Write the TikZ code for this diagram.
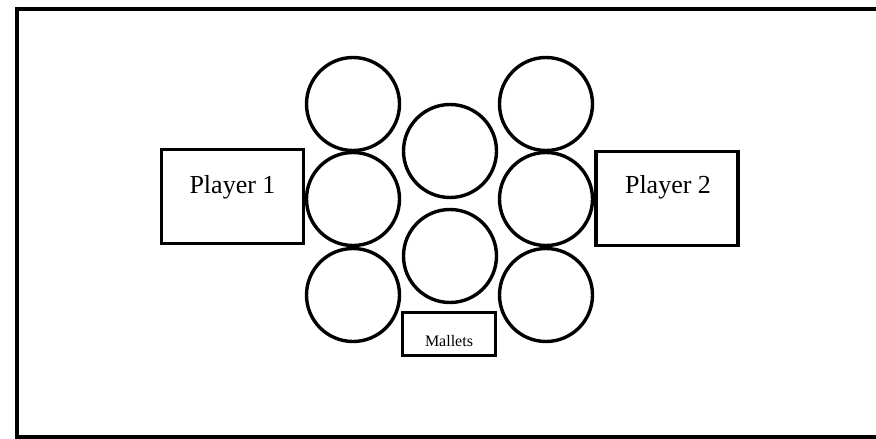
\documentclass[tikz,border=0pt]{standalone}
\usepackage{fontspec}
\setmainfont{Liberation Serif}
\begin{document}
\begin{tikzpicture}[x=1pt,y=-1pt,
  pad/.style={draw=black,line width=3.4pt,circle,minimum size=93pt,inner sep=0pt},
  playerbox/.style={draw=black,line width=3.4pt,rectangle,minimum width=142pt,minimum height=94pt,inner sep=0pt},
  malletbox/.style={draw=black,line width=3.4pt,rectangle,minimum width=93pt,minimum height=43pt,inner sep=0pt},
  bigtext/.style={font=\fontsize{26}{31}\selectfont,anchor=base,inner sep=0pt},
  smalltext/.style={font=\fontsize{16}{19}\selectfont,anchor=base,inner sep=0pt}]
\useasboundingbox (0,0) rectangle (876,439);
\path[fill=white] (0,0) rectangle (876,439);
% outer frame
\draw[line width=3.2pt] (890,9) -- (17,9) -- (17,437) -- (890,437);
% pads
\node[pad] (l1) at (353,104) {};
\node[pad] (l2) at (353,199) {};
\node[pad] (l3) at (353,295) {};
\node[pad] (m1) at (450,151) {};
\node[pad] (m2) at (450,256) {};
\node[pad] (r1) at (546,104) {};
\node[pad] (r2) at (546,199) {};
\node[pad] (r3) at (546,295) {};
% players
\node[playerbox] (p1) at (232.5,196.5) {};
\node[bigtext] (p1t) at (232.5,193) {Player 1};
\node[playerbox] (p2) at (667,198.5) {};
\node[bigtext] (p2t) at (668,193) {Player 2};
% mallets
\node[malletbox] (mb) at (449,334) {};
\node[smalltext] (mt) at (449,346) {Mallets};
\end{tikzpicture}
\end{document}
